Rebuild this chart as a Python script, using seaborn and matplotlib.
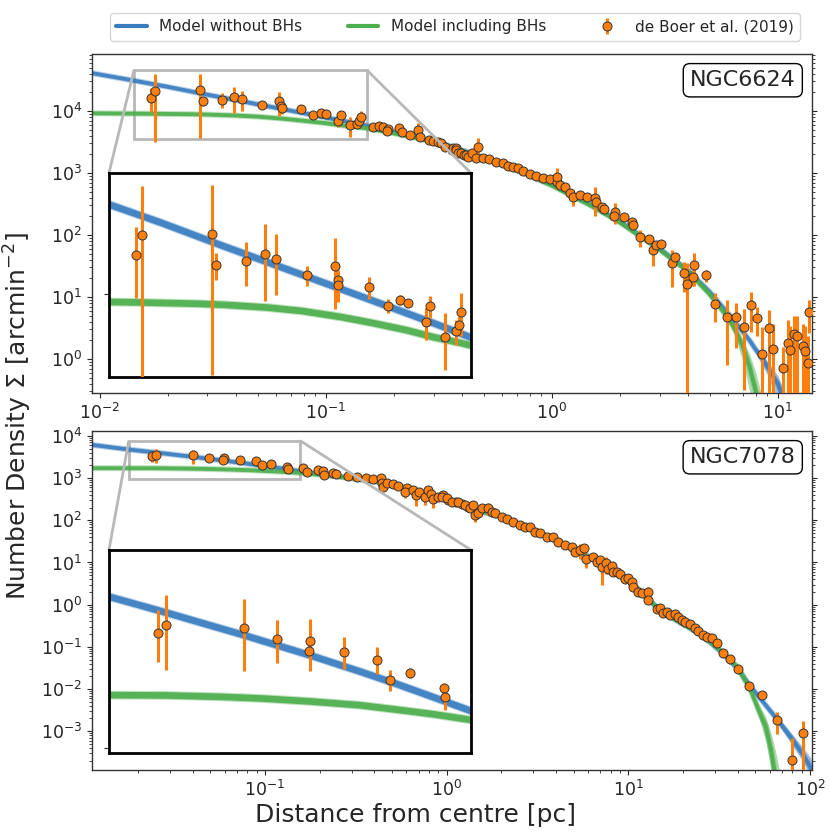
import matplotlib
matplotlib.use("Agg")
import matplotlib.pyplot as plt
import seaborn as sns
from matplotlib.lines import Line2D
from matplotlib.ticker import NullLocator, NullFormatter
from mpl_toolkits.axes_grid1.inset_locator import mark_inset

sns.set_style("ticks")
plt.rcParams["font.family"] = ["DejaVu Sans"]

BLUE = "#3a7dbf"
GREEN = "#4cae4c"
ORANGE = "#ff7f0e"

# ---------------- NGC6624 (top panel) ----------------
r_6624 = [0.0169, 0.0176, 0.0279, 0.0286, 0.0348, 0.0395, 0.0425, 0.0521, 0.0624, 0.0635,
          0.0638, 0.0780, 0.0883, 0.0955, 0.1008, 0.1132, 0.1163, 0.1279, 0.1380, 0.1402,
          0.1426, 0.162, 0.172, 0.179, 0.1887, 0.1868, 0.211, 0.217, 0.236, 0.257,
          0.262, 0.287, 0.299, 0.315, 0.324, 0.338, 0.363, 0.367, 0.377, 0.379,
          0.386, 0.397, 0.410, 0.418, 0.424, 0.443, 0.463, 0.474, 0.495, 0.530,
          0.568, 0.608, 0.640, 0.673, 0.708, 0.745, 0.798, 0.855, 0.915, 0.980,
          1.05, 1.056, 1.086, 1.143, 1.203, 1.245, 1.331, 1.426, 1.553, 1.570,
          1.674, 1.708, 1.905, 1.887, 2.077, 2.262, 2.285, 2.461, 2.680, 2.818,
          2.897, 3.05, 3.40, 3.52, 3.83, 3.97, 4.22, 4.28, 4.79, 5.30,
          5.93, 6.50, 7.08, 7.59, 8.13, 8.55, 9.10, 9.53, 10.5, 11.05,
          11.35, 11.75, 12.15, 12.88, 13.19, 13.56, 13.78]
sig_6624 = [16340, 20960, 21400, 14400, 15200, 16600, 15540, 12650, 14280, 11900,
            11280, 10870, 8650, 9290, 8950, 7010, 8580, 5850, 6260, 6810,
            7980, 5460, 5730, 5460, 5130, 4760, 5260, 4630, 4100, 4940,
            3850, 3400, 3280, 3200, 3080, 2660, 2350, 2500, 2500, 2350,
            2080, 2080, 1950, 1950, 1830, 2080, 1730, 2600, 1730, 1660,
            1520, 1430, 1300, 1260, 1190, 1090, 964, 895, 822, 791,
            724, 871, 640, 587, 481, 415, 442, 415, 400, 344,
            286, 260, 238, 205, 197, 164, 145, 91.8, 85.3, 57.3,
            69, 70.8, 35.7, 43.6, 24.6, 16.0, 21.2, 32.8, 22.6, 7.7,
            4.81, 4.71, 3.32, 7.43, 4.64, 1.21, 3.13, 1.43, 0.708, 1.79,
            1.40, 2.53, 2.35, 1.62, 1.35, 0.853, 5.80]
err_6624 = [6800, 17800, 17800, 2400, 4100, 7400, 5700, 1600, 6000, 1500,
            2200, 1500, 800, 570, 400, 1400, 1200, 2000, 1000, 800,
            2100, 250, 260, 250, 240, 220, 240, 220, 200, 1460,
            180, 160, 150, 150, 140, 120, 110, 110, 110, 100,
            95, 95, 90, 90, 85, 95, 80, 1000, 80, 75,
            70, 65, 60, 58, 55, 50, 45, 42, 40, 38,
            35, 320, 32, 30, 28, 117, 25, 25, 200, 22,
            20, 20, 86, 16, 16, 14, 13, 28, 9, 26,
            8, 8, 21, 6, 12.5, 19, 6, 18, 5, 3.8,
            4.0, 3.2, 3.0, 4.7, 2.3, 2.1, 3.0, 2.3, 0.87, 2.5,
            2.0, 2.5, 2.5, 2.0, 2.0, 1.5, 3.2]

mod_r_6624_nobh = [0.009, 0.0141, 0.02, 0.03, 0.05, 0.08, 0.12, 0.152, 0.18, 0.25,
                   0.35, 0.5, 0.7, 1.0, 1.5, 2.0, 3.0, 4.0, 5.0, 6.0,
                   7.0, 7.5, 8.0, 8.5, 9.0, 10.0, 10.5, 11.0, 12.0]
mod_6624_nobh = [41500, 31000, 24500, 18300, 12800, 9200, 6900, 5800, 5000, 3800,
                 2750, 1780, 1150, 650, 300, 165, 60, 27, 12, 5.5,
                 2.75, 2.0, 1.4, 1.05, 0.75, 0.4, 0.25, 0.1, 0.01]
mod_r_6624_bh = [0.009, 0.0141, 0.017, 0.02, 0.025, 0.03, 0.04, 0.05, 0.065, 0.08,
                 0.1, 0.12, 0.14, 0.152, 0.18, 0.25, 0.35, 0.5, 0.7, 1.0,
                 1.5, 2.0, 3.0, 4.0, 5.0, 6.0, 6.5, 7.0, 7.5, 8.0,
                 8.5, 9.0]
mod_6624_bh = [9180, 9060, 9020, 8950, 8870, 8750, 8450, 8100, 7500, 6950,
               6350, 5800, 5450, 5250, 4700, 3700, 2700, 1720, 1100, 630,
               295, 160, 58, 26, 11, 4.7, 2.9, 1.6, 0.75, 0.3,
               0.08, 0.01]
# spread of the model samples in the outer tail
band_r_6624_bh = [5.5, 6.0, 6.5, 7.0, 7.5, 8.0, 8.5, 9.0]
band_lo_6624_bh = [7.5, 4.2, 2.2, 0.9, 0.3, 0.08, 0.01, 0.001]
band_hi_6624_bh = [8.5, 5.2, 3.3, 2.1, 1.2, 0.6, 0.25, 0.05]
band_r_6624_nobh = [8.0, 9.0, 10.0, 10.5, 11.0, 11.5]
band_lo_6624_nobh = [1.2, 0.55, 0.2, 0.08, 0.02, 0.003]
band_hi_6624_nobh = [1.6, 0.9, 0.55, 0.35, 0.18, 0.07]

# ---------------- NGC7078 (bottom panel) ----------------
r_7078 = [0.0239, 0.0251, 0.0401, 0.0489, 0.0594, 0.0590, 0.0729, 0.0890, 0.0959, 0.1081,
          0.1326, 0.1334, 0.1612, 0.171, 0.1965, 0.2094, 0.211, 0.2376, 0.246, 0.2873,
          0.320, 0.360, 0.394, 0.435, 0.4385, 0.448, 0.4675, 0.508, 0.542, 0.602,
          0.5895, 0.650, 0.678, 0.706, 0.760, 0.792, 0.817, 0.844, 0.899, 0.958,
          1.02, 1.125, 1.21, 1.315, 0.939, 1.0, 1.065, 1.158, 1.261, 1.343,
          1.400, 1.432, 1.493, 1.559, 1.694, 1.769, 1.845, 2.009, 2.138, 2.327,
          2.531, 2.697, 2.873, 3.061, 3.262, 3.549, 3.861, 4.113, 4.478, 4.874,
          5.081, 5.417, 5.70, 5.84, 6.41, 6.69, 6.98, 7.13, 7.50, 7.75,
          8.09, 8.26, 8.62, 8.99, 9.58, 9.99, 10.42, 10.64, 11.33, 11.83,
          12.87, 12.9, 14.32, 14.93, 15.56, 16.25, 16.94, 18.05, 18.83, 19.65,
          20.49, 21.83, 23.26, 24.26, 25.84, 26.97, 28.74, 30.6, 33.3, 36.2,
          40.3, 46.3, 54.6, 66.0, 79.2, 91.7]
sig_7078 = [3290, 3550, 3440, 3080, 3000, 2730, 2700, 2480, 2010, 2170,
            1850, 1680, 1718, 1380, 1563, 1506, 1191, 1349, 1259, 1128,
            1086, 1029, 942, 995, 757, 610, 781, 716, 653, 596,
            479, 525, 400, 463, 352, 525, 423, 316, 352, 400,
            304, 277, 245, 211, 365, 334, 277, 277, 232, 194,
            232, 134, 152, 194, 194, 161, 152, 118, 106, 93,
            77.8, 68.6, 71, 54, 49.4, 39.8, 41.1, 31.3, 26.1, 23.8,
            18.1, 19.9, 21.8, 12.0, 13.8, 10.5, 11.5, 8.0, 9.6, 6.9,
            8.3, 6.1, 5.8, 5.4, 4.0, 4.25, 3.5, 2.68, 2.04, 1.87,
            2.04, 1.30, 0.782, 0.826, 0.628, 0.686, 0.573, 0.605, 0.523, 0.436,
            0.398, 0.351, 0.277, 0.239, 0.192, 0.170, 0.161, 0.1225, 0.0710, 0.0512,
            0.0296, 0.01147, 0.00729, 0.00186, 0.000202, 0.000902]
err_7078 = [870, 1310, 1220, 670, 780, 150, 450, 340, 220, 120,
            100, 200, 90, 80, 85, 80, 70, 75, 70, 60,
            58, 55, 50, 52, 150, 90, 45, 40, 38, 35,
            150, 32, 177, 28, 127, 30, 26, 123, 22, 24,
            20, 18, 16, 14, 22, 20, 18, 18, 15, 13,
            15, 42, 10, 12, 60, 10, 10, 8, 7, 6,
            5, 4.5, 4.5, 3.5, 3.2, 2.6, 2.7, 2.0, 1.7, 1.5,
            1.2, 8, 1.4, 4.6, 0.9, 0.7, 0.8, 5, 4.2, 0.5,
            0.6, 0.45, 0.4, 0.4, 0.3, 0.3, 0.25, 0.2, 0.15, 0.14,
            0.64, 0.1, 0.06, 0.06, 0.05, 0.05, 0.045, 0.045, 0.04, 0.035,
            0.03, 0.028, 0.022, 0.02, 0.016, 0.014, 0.013, 0.011, 0.007, 0.005,
            0.003, 0.0015, 0.001, 0.001, 0.0005, 0.0008]

mod_r_7078_nobh = [0.0112, 0.0178, 0.025, 0.04, 0.06, 0.08, 0.1, 0.125, 0.156, 0.25,
                   0.4, 0.6, 1.0, 1.5, 2.0, 3.0, 5.0, 7.0, 10, 14,
                   18, 25, 33, 40, 47, 55, 66, 79, 92, 100,
                   104]
mod_7078_nobh = [6120, 4770, 4050, 3200, 2585, 2200, 1930, 1680, 1460, 1100,
                 850, 580, 300, 170, 120, 59, 21, 10, 3.9, 0.95,
                 0.45, 0.2, 0.071, 0.03, 0.0115, 0.005, 0.0019, 0.00068, 0.00027, 0.000145,
                 0.0001]
mod_r_7078_bh = [0.0112, 0.0178, 0.025, 0.035, 0.045, 0.06, 0.08, 0.1, 0.125, 0.156,
                 0.25, 0.4, 0.6, 1.0, 1.5, 2.0, 3.0, 5.0, 7.0, 10,
                 14, 18, 25, 33, 40, 47, 52, 57, 61, 64]
mod_7078_bh = [1720, 1720, 1715, 1690, 1660, 1610, 1550, 1480, 1410, 1330,
               1100, 840, 575, 300, 170, 120, 59, 21, 10, 3.9,
               0.95, 0.45, 0.2, 0.075, 0.033, 0.0095, 0.0032, 0.0013, 0.00036, 0.0001]
band_r_7078_bh = [40, 47, 52, 57, 61, 65, 69]
band_lo_7078_bh = [0.028, 0.008, 0.0022, 0.0006, 0.00012, 0.00002, 0.000001]
band_hi_7078_bh = [0.032, 0.011, 0.0045, 0.0022, 0.0009, 0.0003, 0.00008]
band_r_7078_nobh = [66, 79, 92, 100, 105]
band_lo_7078_nobh = [0.0016, 0.0005, 0.00018, 0.00008, 0.00003]
band_hi_7078_nobh = [0.0022, 0.0009, 0.0004, 0.00025, 0.00015]

panels = [
    dict(name="NGC6624", r=r_6624, s=sig_6624, e=err_6624,
         rb=mod_r_6624_nobh, sb=mod_6624_nobh, rg=mod_r_6624_bh, sg=mod_6624_bh,
         bands=[(band_r_6624_nobh, band_lo_6624_nobh, band_hi_6624_nobh, BLUE),
                (band_r_6624_bh, band_lo_6624_bh, band_hi_6624_bh, GREEN)],
         xlim=(0.00925, 14.2), ylim=(0.283, 8.3e4),
         inxlim=(0.0142, 0.152), inylim=(3530, 45800),
         pos=[0.1108, 0.5282, 0.8678, 0.4070], inpos=[0.1313, 0.5474, 0.4361, 0.2449]),
    dict(name="NGC7078", r=r_7078, s=sig_7078, e=err_7078,
         rb=mod_r_7078_nobh, sb=mod_7078_nobh, rg=mod_r_7078_bh, sg=mod_7078_bh,
         bands=[(band_r_7078_nobh, band_lo_7078_nobh, band_hi_7078_nobh, BLUE),
                (band_r_7078_bh, band_lo_7078_bh, band_hi_7078_bh, GREEN)],
         xlim=(0.01116, 102.8), ylim=(1.2e-4, 1.31e4),
         inxlim=(0.0178, 0.156), inylim=(942, 7740),
         pos=[0.1108, 0.0756, 0.8678, 0.4070], inpos=[0.1313, 0.0957, 0.4361, 0.2441]),
]


def draw(ax, p, lw):
    for br, lo, hi, c in p["bands"]:
        ax.fill_between(br, lo, hi, color=c, alpha=0.45, lw=0, zorder=1)
    for rr, ss, c in [(p["rb"], p["sb"], BLUE), (p["rg"], p["sg"], GREEN)]:
        # soft halo from the overlapping model samples, then the core line
        sns.lineplot(x=rr, y=ss, ax=ax, color=c, lw=lw + 1.5, alpha=0.35,
                     legend=False, zorder=2)
        sns.lineplot(x=rr, y=ss, ax=ax, color=c, lw=lw, alpha=0.9,
                     legend=False, zorder=2)
    ax.errorbar(p["r"], p["s"], yerr=p["e"], fmt="o", color=ORANGE, ms=6.5,
                mec="#333333", mew=0.7, elinewidth=2.2, capsize=0, zorder=3)


fig = plt.figure(figsize=(8.3, 8.33), dpi=100)

for p in panels:
    ax = fig.add_axes(p["pos"])
    ax.set_xscale("log")
    ax.set_yscale("log")
    draw(ax, p, 2.8)
    ax.set_xlim(*p["xlim"])
    ax.set_ylim(*p["ylim"])
    ax.tick_params(which="both", right=True, labelsize=12.5)
    for sp in ax.spines.values():
        sp.set_linewidth(1.0)
        sp.set_color("#333333")
    ax.text(0.977, 0.952, p["name"], transform=ax.transAxes, ha="right", va="top",
            fontsize=16, bbox=dict(boxstyle="round,pad=0.3", fc="white", ec="black", lw=1))

    axins = fig.add_axes(p["inpos"])
    axins.set_xscale("log")
    axins.set_yscale("log")
    draw(axins, p, 4.8)
    axins.set_xlim(*p["inxlim"])
    axins.set_ylim(*p["inylim"])
    axins.xaxis.set_major_locator(NullLocator())
    axins.xaxis.set_minor_locator(NullLocator())
    axins.yaxis.set_minor_locator(NullLocator())
    axins.yaxis.set_major_formatter(NullFormatter())
    axins.yaxis.set_minor_formatter(NullFormatter())
    for sp in axins.spines.values():
        sp.set_linewidth(2)
        sp.set_color("black")
    mark_inset(ax, axins, loc1=1, loc2=2, fc="none", ec="0.72", lw=2)

    if p["name"] == "NGC6624":
        ax_top = ax

handles = [Line2D([], [], color=BLUE, lw=3),
           Line2D([], [], color=GREEN, lw=3),
           ax_top.errorbar([], [], yerr=[], fmt="o", color=ORANGE, ms=6.5,
                           mec="#333333", mew=0.7, elinewidth=2.2)]
fig.legend(handles, ["Model without BHs", "Model including BHs", "de Boer et al. (2019)"],
           loc="upper center", bbox_to_anchor=(0.548, 0.984), borderaxespad=0,
           ncol=3, fontsize=11, columnspacing=3.0, frameon=True)

fig.text(0.5, 0.022, "Distance from centre [pc]", ha="center", va="center", fontsize=18)
fig.text(0.022, 0.5, r"Number Density $\Sigma$ [arcmin$^{-2}$]", ha="center", va="center",
         rotation=90, fontsize=18)

fig.savefig("out.png", dpi=100)
